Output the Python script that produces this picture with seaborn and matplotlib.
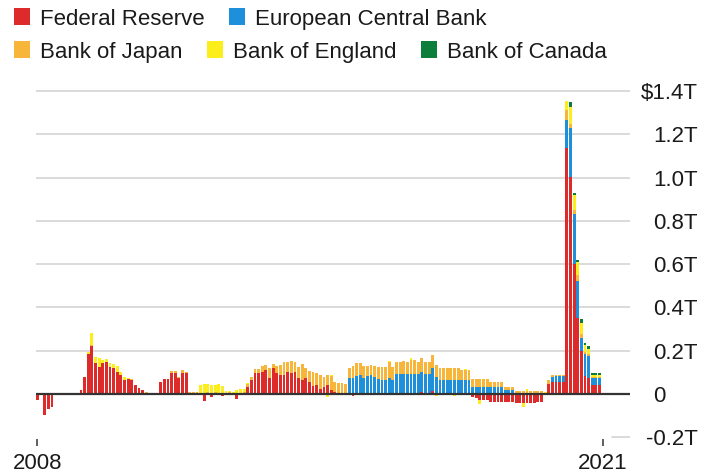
import numpy as np
import pandas as pd
import matplotlib
matplotlib.use("Agg")
import matplotlib.pyplot as plt
import matplotlib.transforms as mtransforms
from matplotlib.patches import Patch
import seaborn as sns

# Monthly change in central-bank asset purchases, USD billions, Jan 2008 - Dec 2020
months = pd.date_range("2008-01-01", "2020-12-01", freq="MS")

fed = [
    -28, 0, -97, -69, -60, 0, 0, 0, 3, 0, 4, 2,                 # 2008
    18, 80, 183, 222, 142, 126, 142, 150, 126, 118, 103, 88,    # 2009
    65, 68, 65, 42, 26, 18, 5, 0, 0, 0, 53, 68,                 # 2010
    68, 95, 97, 75, 99, 97, 3, 0, 2, 0, -32, 2,                 # 2011
    -12, 2, 0, -8, 0, 2, 0, -23, 0, 0, 34, 65,                  # 2012
    95, 95, 103, 111, 72, 118, 95, 88, 88, 103, 95, 103,        # 2013
    72, 65, 72, 57, 38, 42, 21, 34, 42, 18, 8, 5,               # 2014
    2, 0, 0, -8, 5, 0, 0, 3, 0, 0, 0, 0,                        # 2015
    0, 0, 0, 0, 0, 3, 0, 0, 0, 0, 10, 0,                        # 2016
    0, 15, 0, 0, 0, 0, 0, 0, 0, 0, 0, 0,                        # 2017
    -13, -20, -28, -28, -30, -37, -37, -37, -37, -37, -37, -37, # 2018
    -43, -43, -43, -43, -43, -40, -38, -35, 0, 45, 57, 57,      # 2019
    57, 57, 1135, 1001, 600, 351, 200, 85, 75, 42, 42, 42,      # 2020
]
ecb = [0] * 84 + [
    0, 0, 72, 72, 80, 88, 72, 82, 88, 80, 68, 65,               # 2015
    65, 72, 65, 91, 91, 91, 91, 91, 91, 91, 91, 91,             # 2016
    91, 106, 80, 65, 65, 65, 65, 65, 65, 65, 65, 65,            # 2017
    34, 34, 34, 34, 34, 34, 34, 34, 34, 18, 18, 18,             # 2018
    0, 0, 0, 0, 0, 0, 0, 0, 0, 0, 23, 26,                       # 2019
    26, 26, 131, 226, 230, 170, 60, 100, 100, 30, 30, 30,       # 2020
]
boj = [
    0, 0, 0, 0, 0, 0, 0, 0, 3, 3, 0, 0,
    0, 0, 0, 3, 0, 0, 0, 0, 0, 0, 0, 0,
    0, 0, 3, 0, 0, 0, 5, 5, 5, 5, 0, 0,
    0, 10, 10, 5, 10, 5, 8, 8, 8, 5, 5, 5,
    5, 5, 5, 5, 5, 5, 5, 5, 5, 8, 10, 15,
    20, 22, 27, 25, 46, 20, 34, 46, 58, 47, 57, 47,
    54, 72, 46, 49, 64, 53, 67, 46, 46, 65, 49, 45,
    48, 46, 46, 55, 57, 53, 55, 45, 45, 47, 58, 61,
    61, 74, 61, 55, 55, 59, 59, 68, 64, 59, 64, 59,
    55, 58, 52, 55, 55, 53, 53, 55, 55, 48, 46, 46,
    34, 34, 34, 34, 34, 20, 20, 20, 20, 16, 16, 16,
    15, 15, 15, 15, 15, 15, 15, 15, 5, 20, 8, 5,
    5, 5, 46, 20, 20, 30, 15, 10, 10, 8, 8, 8,
]
boe = [
    0, 0, 0, 0, 0, 0, 0, 0, 0, 0, 0, 0,
    0, 0, 10, 55, 30, 40, 15, 10, 15, 20, 25, 15,
    15, 5, 3, 0, 0, 0, 0, 0, 0, 0, 0, 0,
    0, 0, 0, 0, 0, 0, 0, 0, 0, 35, 40, 40,
    35, 35, 40, 30, 8, 8, 5, 15, 20, 15, 5, 0,
    0, 0, 0, 0, 0, 0, 0, 0, 0, 0, 0, 0,
    0, 0, 0, 0, 0, 0, 0, 0, -13, 5, 0, 0,
    0, 0, 0, 0, 0, 0, 0, 0, 0, 0, 0, 0,
    0, 5, 0, 0, 0, 0, 0, 8, 0, 0, 0, 0,
    0, 0, -10, 0, 0, 0, 0, -8, 0, 0, 5, 0,
    0, 0, -20, 0, 0, 0, 0, 0, 0, 0, 0, 0,
    0, 0, -15, 8, 0, 0, 0, 0, 3, 0, 0, 0,
    0, 0, 43, 80, 70, 60, 55, 30, 25, 8, 8, 8,
]
boc = [0] * 144 + [0, 0, 0, 23, 10, 10, 15, 12, 10, 8, 8, 10]

banks = ["Federal Reserve", "European Central Bank", "Bank of Japan",
         "Bank of England", "Bank of Canada"]
colors = ["#dd2b2b", "#1d8fdb", "#f7b539", "#fbee1a", "#0c7e3c"]
ytick_vals = [-0.2, 0, 0.2, 0.4, 0.6, 0.8, 1.0, 1.2, 1.4]
ytick_labels = ["-0.2T", "0", "0.2T", "0.4T", "0.6T", "0.8T", "1.0T", "1.2T", "$1.4T"]
xtick_years = ["2008", "2021"]

for s in (fed, ecb, boj, boe, boc):
    assert len(s) == len(months)

sns.set_theme(style="white")
plt.rcParams["font.family"] = ["Liberation Sans", "DejaVu Sans"]
TXT = "#1a1a1a"
FS = 16

vals = np.array([fed, ecb, boj, boe, boc], dtype=float) / 1000.0
pos_cum = np.clip(vals, 0, None).cumsum(axis=0)
neg_cum = np.clip(vals, None, 0).cumsum(axis=0)
idx = np.arange(len(months))

fig = plt.figure(figsize=(7.1, 4.75), dpi=100)
ax = fig.add_axes([36 / 710, 1 - 439.4 / 475, 594 / 710, 350.5 / 475])

for k in reversed(range(len(banks))):
    for cum in (pos_cum[k], neg_cum[k]):
        sns.barplot(x=idx, y=cum, color=colors[k], saturation=1, errorbar=None,
                    width=0.78, linewidth=0, edgecolor="none", ax=ax, zorder=2)

ax.set_xlim(-0.4, 163.4)
ax.set_ylim(-0.21, 1.41)
for s in ax.spines.values():
    s.set_visible(False)
ax.grid(False)
ax.set_xlabel("")
ax.set_ylabel("")

# gridlines
for v in ytick_vals:
    if v == 0:
        continue
    xmin = 0.97 if v < 0 else 0.0
    ax.axhline(v, xmin=xmin, xmax=1.0, color="#d8d8d8", lw=1.3, zorder=0)
ax.axhline(0, color="#333333", lw=1.6, zorder=5)

# y axis on right
ax.yaxis.tick_right()
ax.set_yticks(ytick_vals)
ax.set_yticklabels(ytick_labels)
ax.tick_params(axis="y", length=0, pad=17, labelsize=FS, labelcolor=TXT)
for tick, lab in zip(ax.yaxis.get_major_ticks(), ytick_labels):
    dx = 0
    if lab.startswith("$"):
        dx = -12.3
    elif lab.startswith("-"):
        dx = -8
    if dx:
        t = tick.label2
        t.set_transform(t.get_transform() +
                        mtransforms.ScaledTranslation(dx / 100, 0, fig.dpi_scale_trans))

# x axis
ax.set_xticks([0, len(months)])
ax.set_xticklabels(xtick_years)
ax.tick_params(axis="x", bottom=True, length=5, width=1.1, color="#333333",
               pad=5, labelsize=FS, labelcolor=TXT)

# legend (two rows)
handles = [Patch(facecolor=c, edgecolor="none", label=b) for b, c in zip(banks, colors)]
common = dict(loc="center left", frameon=False, fontsize=FS, handlelength=0.72,
              handleheight=0.8, handletextpad=0.45, columnspacing=1.1,
              borderpad=0, borderaxespad=0, labelcolor=TXT)
fig.legend(handles=handles[:2], ncol=2, bbox_to_anchor=(14 / 710, 1 - 19 / 475), **common)
fig.legend(handles=handles[2:], ncol=3, bbox_to_anchor=(14 / 710, 1 - 52 / 475), **common)

fig.savefig("out.png", dpi=100, facecolor="white")
